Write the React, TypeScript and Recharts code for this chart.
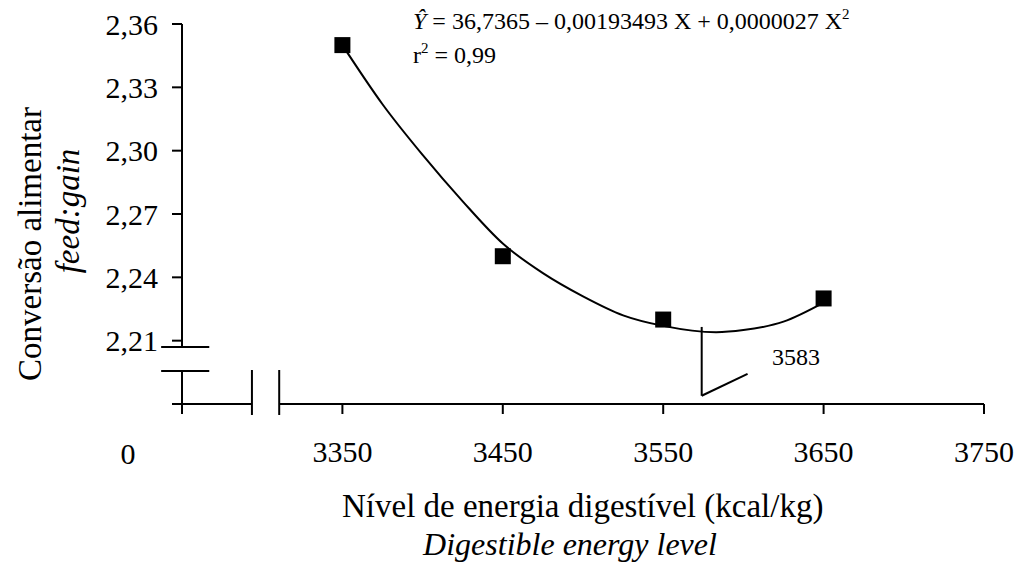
import { ComposedChart, Line, Scatter, XAxis, YAxis, ReferenceLine } from 'recharts';

// observed means
const energyLevels = [3350, 3450, 3550, 3650];
const feedGain = [2.35, 2.25, 2.22, 2.23];

// fitted curve
const curveLevels = [3350, 3375, 3400, 3425, 3450, 3475, 3500, 3525, 3550, 3583, 3600, 3625, 3650];
const curveValues = [2.35, 2.322, 2.298, 2.276, 2.256, 2.242, 2.231, 2.222, 2.217, 2.214, 2.215, 2.219, 2.228];

const xTicks = [3250, 3350, 3450, 3550, 3650, 3750];
const yTicks = [2.18, 2.21, 2.24, 2.27, 2.3, 2.33, 2.36];

const points = energyLevels.map((x, i) => ({ x, y: feedGain[i] }));
const curve = curveLevels.map((x, i) => ({ x, y: curveValues[i] }));

const FONT = 'Liberation Serif';
const line = { stroke: '#000', strokeWidth: 2, ifOverflow: 'visible' as const };

const Square = (props: any) => {
  const { cx, cy } = props;
  return <rect x={cx - 8} y={cy - 8} width={16} height={16} fill="#000" />;
};

export default function App() {
  return (
    <div style={{ position: 'absolute', left: 0, top: 0, width: 1021, height: 567, background: '#fff', fontFamily: FONT }}>
      <ComposedChart width={1021} height={567} margin={{ top: 24, right: 37, bottom: 103, left: 82 }}>
        <XAxis
          type="number"
          dataKey="x"
          domain={[3250, 3750]}
          ticks={xTicks}
          tickFormatter={(v: number) => (v === 3250 ? '' : String(v))}
          axisLine={false}
          tickSize={10}
          tickMargin={27}
          height={60}
          tickLine={{ stroke: '#000', strokeWidth: 2 }}
          tick={{ fill: '#000', fontSize: 30, fontFamily: FONT }}
        />
        <YAxis
          type="number"
          dataKey="y"
          domain={[2.18, 2.36]}
          ticks={yTicks}
          tickFormatter={(v: number) => (v === 2.18 ? '' : v.toFixed(2).replace('.', ','))}
          axisLine={false}
          tickSize={10}
          tickMargin={14}
          width={100}
          tickLine={{ stroke: '#000', strokeWidth: 2 }}
          tick={{ fill: '#000', fontSize: 30, fontFamily: FONT }}
        />
        {/* broken axes */}
        <ReferenceLine segment={[{ x: 3250, y: 2.36 }, { x: 3250, y: 2.207 }]} {...line} />
        <ReferenceLine segment={[{ x: 3250, y: 2.1956 }, { x: 3250, y: 2.18 }]} {...line} />
        <ReferenceLine segment={[{ x: 3237, y: 2.207 }, { x: 3267, y: 2.207 }]} {...line} />
        <ReferenceLine segment={[{ x: 3237, y: 2.1956 }, { x: 3267, y: 2.1956 }]} {...line} />
        <ReferenceLine segment={[{ x: 3250, y: 2.18 }, { x: 3293.6, y: 2.18 }]} {...line} />
        <ReferenceLine segment={[{ x: 3310.6, y: 2.18 }, { x: 3750, y: 2.18 }]} {...line} />
        <ReferenceLine segment={[{ x: 3293.6, y: 2.1961 }, { x: 3293.6, y: 2.1748 }]} {...line} />
        <ReferenceLine segment={[{ x: 3310.6, y: 2.1961 }, { x: 3310.6, y: 2.1748 }]} {...line} />
        {/* minimum marker */}
        <ReferenceLine segment={[{ x: 3574, y: 2.2165 }, { x: 3574, y: 2.1839 }]} {...line} />
        <ReferenceLine segment={[{ x: 3574, y: 2.1839 }, { x: 3602.6, y: 2.1943 }]} {...line} />
        <Line
          data={curve}
          dataKey="y"
          type="monotone"
          stroke="#000"
          strokeWidth={2}
          dot={false}
          isAnimationActive={false}
        />
        <Scatter data={points} dataKey="y" shape={Square} isAnimationActive={false} />
      </ComposedChart>
      <svg width={1021} height={567} style={{ position: 'absolute', left: 0, top: 0, pointerEvents: 'none' }}>
        <g fill="#000">
          <text x={413} y={29} fontSize={24} fontFamily={FONT}>
            <tspan fontStyle="italic">Ŷ</tspan>
            <tspan> = 36,7365 – 0,00193493 X + 0,0000027 X</tspan>
            <tspan fontSize={15} dy={-10}>2</tspan>
          </text>
          <text x={413} y={63} fontSize={24} fontFamily={FONT}>
            <tspan>r</tspan>
            <tspan fontSize={15} dy={-10}>2</tspan>
            <tspan dy={10}> = 0,99</tspan>
          </text>
          <text x={772} y={365} fontSize={24} fontFamily={FONT}>3583</text>
          <text x={128} y={453} fontSize={30} fontFamily={FONT} textAnchor="middle" dominantBaseline="central">0</text>
          <text x={30} y={244} fontSize={33} fontFamily={FONT} textAnchor="middle" dominantBaseline="central" transform="rotate(-90 30 244)">
            Conversão alimentar
          </text>
          <text x={68} y={211} fontSize={33} fontFamily={FONT} fontStyle="italic" textAnchor="middle" dominantBaseline="central" transform="rotate(-90 68 211)">
            feed:gain
          </text>
          <text x={342} y={517} fontSize={33} fontFamily={FONT}>Nível de energia digestível (kcal/kg)</text>
          <text x={570} y={555} fontSize={32} fontFamily={FONT} fontStyle="italic" textAnchor="middle">Digestible energy level</text>
        </g>
      </svg>
    </div>
  );
}
